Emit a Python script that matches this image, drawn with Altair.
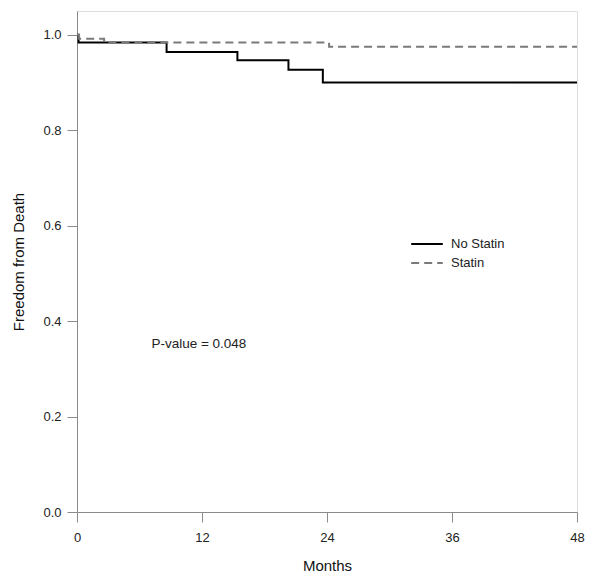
import altair as alt
import pandas as pd

# Kaplan-Meier step data (months, survival)
no_statin_t = [0, 0.15, 8.6, 15.4, 20.3, 23.6, 48]
no_statin_s = [1.0, 0.984, 0.964, 0.947, 0.927, 0.900, 0.900]
statin_t = [0, 0.2, 2.6, 24.2, 48]
statin_s = [1.0, 0.992, 0.984, 0.975, 0.975]

groups = ["No Statin", "Statin"]
x_ticks = [0, 12, 24, 36, 48]
y_ticks = [0.0, 0.2, 0.4, 0.6, 0.8, 1.0]

ann_text = ["P-value = 0.048"]
ann_x = [11.7]
ann_y = [0.352]

rows = []
for t, s in zip(no_statin_t, no_statin_s):
    rows.append({"months": t, "surv": s, "group": groups[0]})
for t, s in zip(statin_t, statin_s):
    rows.append({"months": t, "surv": s, "group": groups[1]})
df = pd.DataFrame(rows)
ann = pd.DataFrame({"x": ann_x, "y": ann_y, "label": ann_text})

FONT = "Liberation Sans"

xscale = alt.Scale(domain=[0, 48], nice=False, zero=False)
yscale = alt.Scale(domain=[0, 1.05], nice=False)

lines = alt.Chart(df).mark_line(interpolate="step-after", strokeWidth=2).encode(
    x=alt.X("months:Q", scale=xscale, title="Months",
            axis=alt.Axis(values=x_ticks, format="d", grid=False, tickSize=10,
                          labelFlush=False, labelOverlap=False,
                          domainColor="#8a8a8a", tickColor="#8a8a8a",
                          labelFontSize=13, labelColor="#222", labelPadding=9,
                          titleFontSize=15, titleFontWeight="normal", titleColor="#111",
                          titlePadding=14, labelFont=FONT, titleFont=FONT)),
    y=alt.Y("surv:Q", scale=yscale, title="Freedom from Death",
            axis=alt.Axis(values=y_ticks, format=".1f", grid=False, tickSize=10,
                          labelFlush=False, labelOverlap=False,
                          domainColor="#8a8a8a", tickColor="#8a8a8a",
                          labelFontSize=13, labelColor="#222", labelPadding=6,
                          titleFontSize=15, titleFontWeight="normal", titleColor="#111",
                          titlePadding=16, labelFont=FONT, titleFont=FONT)),
    color=alt.Color("group:N", scale=alt.Scale(domain=groups, range=["#000000", "#7a7a7a"]),
                    legend=alt.Legend(title=None, orient="none", legendX=333, legendY=225,
                                      symbolType="stroke", symbolSize=1000, symbolStrokeWidth=2,
                                      labelFontSize=13, labelFont=FONT, labelColor="#222",
                                      clipHeight=16, rowPadding=3, labelOffset=7)),
    strokeDash=alt.StrokeDash("group:N", scale=alt.Scale(domain=groups, range=[[1, 0], [8, 5]]),
                              legend=None),
)

text = alt.Chart(ann).mark_text(fontSize=13.5, font=FONT, color="#222").encode(
    x=alt.X("x:Q", scale=xscale),
    y=alt.Y("y:Q", scale=yscale),
    text="label:N",
)

chart = alt.layer(lines, text).properties(
    width=500, height=501,
    autosize=alt.AutoSizeParams(type="none"),
    padding={"left": 69, "top": 3, "right": 16, "bottom": 60},
).configure_view(stroke=None).configure(background="white")

chart.save("out.html", embed_options={"renderer": "svg", "actions": False})
